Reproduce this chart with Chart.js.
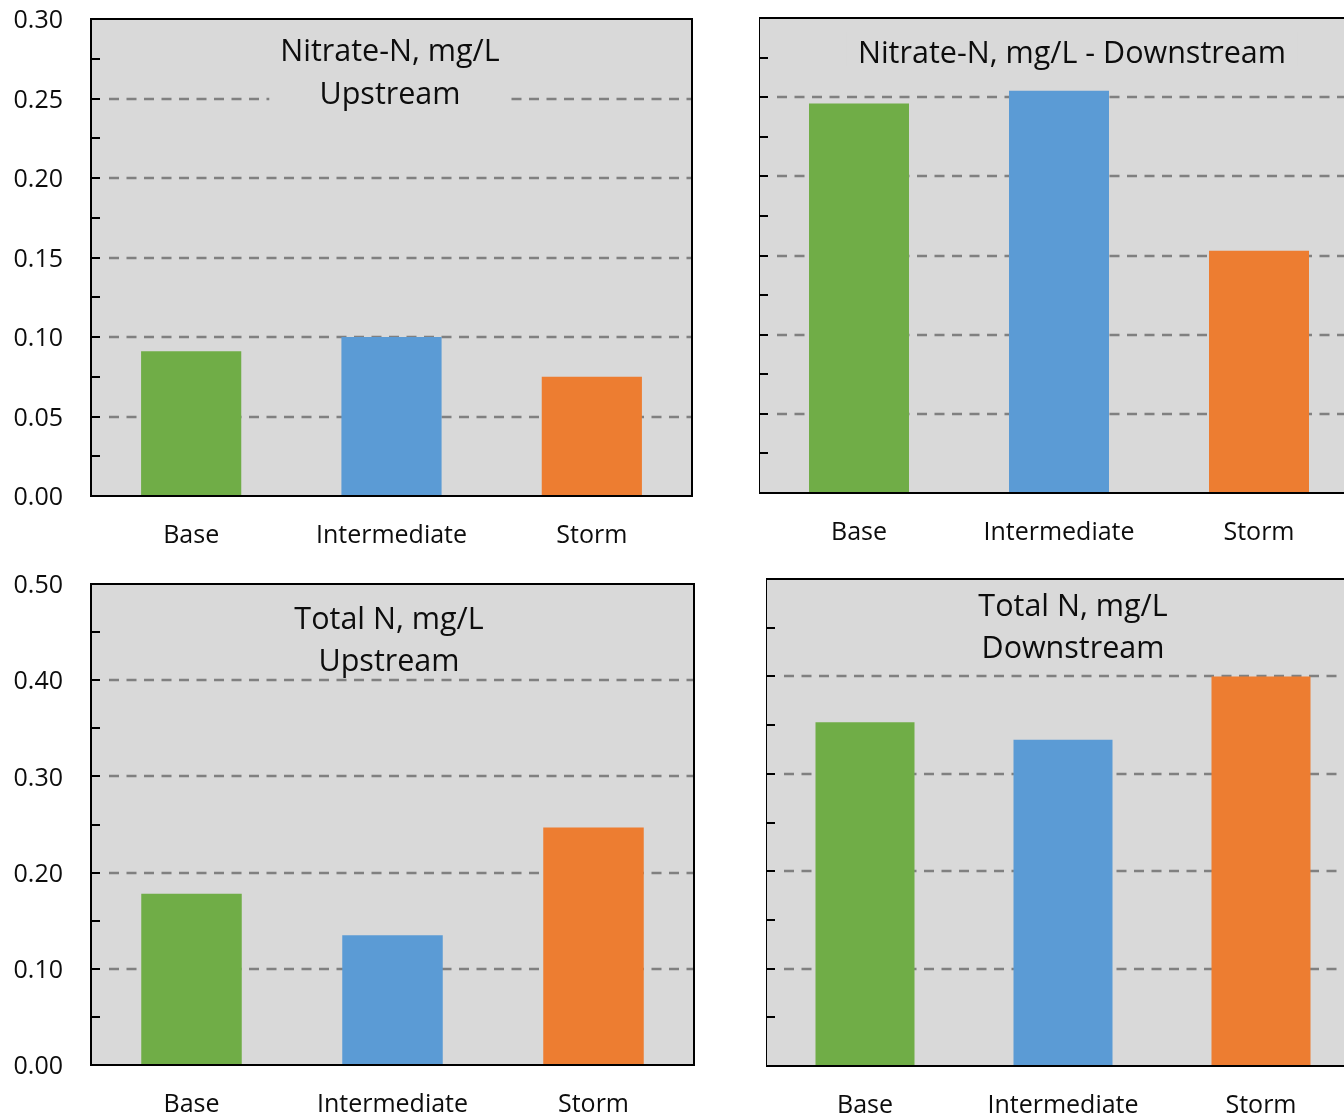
<!DOCTYPE html>
<html>
<head>
<meta charset="utf-8">
<title>Nitrogen - Upstream / Downstream</title>
<script src="https://cdn.jsdelivr.net/npm/chart.js@4.4.1/dist/chart.umd.min.js"></script>
<style>
    html, body { margin: 0; padding: 0; background: #fff; }
    body { width: 1344px; height: 1118px; overflow: hidden; position: relative; }
    .panel { position: absolute; }
</style>
</head>
<body>
<div class="panel" id="p1"><canvas id="c1"></canvas></div>
<div class="panel" id="p2"><canvas id="c2"></canvas></div>
<div class="panel" id="p3"><canvas id="c3"></canvas></div>
<div class="panel" id="p4"><canvas id="c4"></canvas></div>
<script>
// 数据
const categories = ['Base', 'Intermediate', 'Storm'];
const nitrateUpstream = [0.091, 0.100, 0.075];
const nitrateDownstream = [0.246, 0.254, 0.153];
const totalNUpstream = [0.178, 0.135, 0.247];
const totalNDownstream = [0.353, 0.335, 0.400];
const nitrateAxis = { max: 0.30, step: 0.05 };
const totalNAxis = { max: 0.50, step: 0.10 };

// 样式
const FONT = "'Open Sans', 'Noto Sans', sans-serif";
const TEXT_COLOR = '#0d0d0d';
const PLOT_BG = '#d9d9d9';
const GRID_COLOR = '#808080';
const BAR_COLORS = ['#70ad47', '#5b9bd5', '#ed7d31'];
const PAD_TOP = 20;
const PAD_RIGHT = 4;
const X_AXIS_H = 60;

// 面板位置
const PANELS = [
    { id: 'c1', box: 'p1', data: nitrateUpstream, axis: nitrateAxis, showY: true,
      area: { left: 91, top: 19, right: 692, bottom: 496 },
      title: ['Nitrate-N, mg/L', 'Upstream'], titleX: 390, titleY: [52, 95] },
    { id: 'c2', box: 'p2', data: nitrateDownstream, axis: nitrateAxis, showY: false,
      area: { left: 759, top: 18, right: 1359, bottom: 493 },
      title: ['Nitrate-N, mg/L - Downstream'], titleX: 1072, titleY: [54] },
    { id: 'c3', box: 'p3', data: totalNUpstream, axis: totalNAxis, showY: true,
      area: { left: 91, top: 584, right: 694, bottom: 1065 },
      title: ['Total N, mg/L', 'Upstream'], titleX: 389, titleY: [620, 662] },
    { id: 'c4', box: 'p4', data: totalNDownstream, axis: totalNAxis, showY: false,
      area: { left: 766, top: 579, right: 1360, bottom: 1066 },
      title: ['Total N, mg/L', 'Downstream'], titleX: 1073, titleY: [607, 649] }
];

// 背景、网格线、标题、边框、刻度
const panelPlugin = {
    id: 'panel',
    beforeDraw(chart) {
        const { ctx, chartArea: a } = chart;
        const y = chart.scales.y;
        ctx.save();
        ctx.fillStyle = PLOT_BG;
        ctx.fillRect(a.left, a.top, a.right - a.left, a.bottom - a.top);
        ctx.strokeStyle = GRID_COLOR;
        ctx.lineWidth = 2.5;
        ctx.setLineDash([10, 7.5]);
        y.ticks.forEach(t => {
            if (t.value <= y.min + 1e-9 || t.value >= y.max - 1e-9) return;
            const py = Math.round(y.getPixelForValue(t.value));
            ctx.beginPath();
            ctx.moveTo(a.left + 18, py);
            ctx.lineTo(a.right, py);
            ctx.stroke();
        });
        ctx.restore();
    },
    afterDatasetsDraw(chart, args, opts) {
        const { ctx, chartArea: a } = chart;
        const y = chart.scales.y;
        ctx.save();

        // 标题
        ctx.font = `30.5px ${FONT}`;
        const w = Math.max(...opts.lines.map(l => ctx.measureText(l).width)) + 22;
        const top = opts.ys[0] - 22;
        const bottom = opts.ys[opts.ys.length - 1] + 12;
        ctx.fillStyle = PLOT_BG;
        ctx.fillRect(opts.x - w / 2, top, w, bottom - top);
        ctx.fillStyle = TEXT_COLOR;
        ctx.textAlign = 'center';
        ctx.textBaseline = 'middle';
        opts.lines.forEach((l, i) => ctx.fillText(l, opts.x, opts.ys[i]));

        // 边框
        ctx.strokeStyle = '#000';
        ctx.lineWidth = 2;
        ctx.strokeRect(a.left, a.top, a.right - a.left, a.bottom - a.top);

        // 主/次刻度 (朝内)
        const vals = y.ticks.map(t => t.value);
        const marks = [];
        vals.forEach((v, i) => {
            marks.push(v);
            if (i < vals.length - 1) marks.push((v + vals[i + 1]) / 2);
        });
        ctx.beginPath();
        marks.forEach(v => {
            const py = Math.round(y.getPixelForValue(v));
            ctx.moveTo(a.left, py);
            ctx.lineTo(a.left + 9, py);
        });
        ctx.stroke();
        ctx.restore();
    }
};

function buildPanel(p) {
    const yAxisW = p.showY ? p.area.left : 0;
    const left = p.area.left - yAxisW;
    const top = p.area.top - PAD_TOP;
    const width = yAxisW + (p.area.right - p.area.left) + PAD_RIGHT;
    const height = PAD_TOP + (p.area.bottom - p.area.top) + X_AXIS_H;

    const box = document.getElementById(p.box);
    box.style.left = left + 'px';
    box.style.top = top + 'px';
    const canvas = document.getElementById(p.id);
    canvas.width = width;
    canvas.height = height;
    canvas.style.width = width + 'px';
    canvas.style.height = height + 'px';

    return new Chart(canvas, {
        type: 'bar',
        data: {
            labels: categories,
            datasets: [{
                data: p.data,
                backgroundColor: BAR_COLORS,
                borderWidth: 0,
                barPercentage: 0.5,
                categoryPercentage: 1
            }]
        },
        options: {
            responsive: false,
            animation: false,
            devicePixelRatio: 1,
            layout: { padding: { top: PAD_TOP, right: PAD_RIGHT, left: 0, bottom: 0 } },
            plugins: {
                legend: { display: false },
                tooltip: { enabled: false },
                panel: {
                    lines: p.title,
                    x: p.titleX - left,
                    ys: p.titleY.map(v => v - top)
                }
            },
            scales: {
                x: {
                    type: 'category',
                    grid: { display: false, drawTicks: false },
                    border: { display: false },
                    ticks: { font: { family: FONT, size: 25 }, color: TEXT_COLOR, padding: 25, maxRotation: 0 },
                    afterFit: s => {
                        s.height = X_AXIS_H;
                        s.paddingLeft = 0;
                        s.paddingRight = 0;
                    }
                },
                y: {
                    min: 0,
                    max: p.axis.max,
                    grid: { display: false, drawTicks: false },
                    border: { display: false },
                    ticks: {
                        display: p.showY,
                        stepSize: p.axis.step,
                        padding: 28,
                        labelOffset: 2,
                        font: { family: FONT, size: 25 },
                        color: TEXT_COLOR,
                        callback: v => Number(v).toFixed(2)
                    },
                    afterFit: s => {
                        s.width = yAxisW;
                        s.paddingTop = 0;
                        s.paddingBottom = 0;
                    }
                }
            }
        },
        plugins: [panelPlugin]
    });
}

PANELS.forEach(buildPanel);
</script>
</body>
</html>
